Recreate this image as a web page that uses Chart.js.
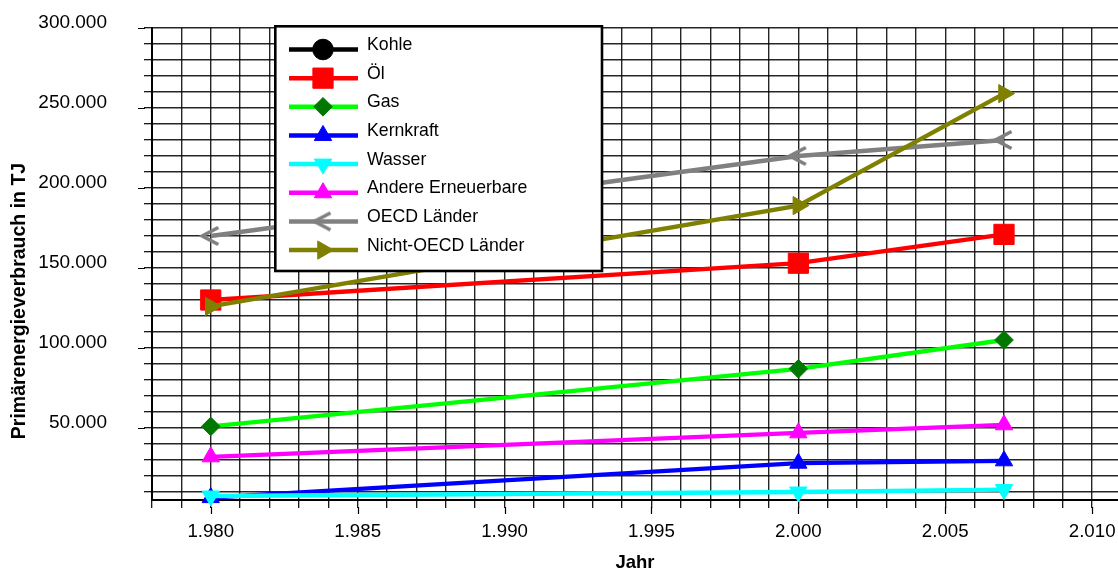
<!DOCTYPE html>
<html>
<head>
<meta charset="utf-8">
<script src="https://cdn.jsdelivr.net/npm/chart.js"></script>
<style>
html,body{margin:0;padding:0;background:#fff;overflow:hidden;}
#wrap{width:1118px;height:568px;position:relative;}
canvas{display:block;}
</style>
</head>
<body>
<div id="wrap"><canvas id="c" width="1118" height="568"></canvas></div>
<script>
// ---- data ----
const years = [1980, 2000, 2007];
const kohle = [null, null, null];
const oel = [130000, 153000, 171000];
const gas = [51000, 87000, 105000];
const kernkraft = [6500, 28000, 29500];
const wasser = [7500, 10000, 11500];
const andere = [32000, 47000, 52000];
const oecd = [170000, 220000, 230000];
const nichtOecd = [126000, 189000, 259000];
const seriesNames = ['Kohle', 'Öl', 'Gas', 'Kernkraft', 'Wasser', 'Andere Erneuerbare', 'OECD Länder', 'Nicht-OECD Länder'];
const yTickLabels = [50000, 100000, 150000, 200000, 250000, 300000];
const xTickLabels = [1980, 1985, 1990, 1995, 2000, 2005, 2010];
const yRange = [5000, 300000];
const xRange = [1978, 2010.88];
const yStep = 10000;
const xStep = 1;
const xTitle = 'Jahr';
const yTitle = 'Primärenergieverbrauch in TJ';

// ---- helpers ----
function fmt(v) { return String(Math.round(v)).replace(/\B(?=(\d{3})+(?!\d))/g, '.'); }
function chevron(color) {
  const c = document.createElement('canvas');
  c.width = 24; c.height = 24;
  const g = c.getContext('2d');
  g.strokeStyle = color; g.lineWidth = 3.6; g.lineJoin = 'miter'; g.lineCap = 'butt';
  g.beginPath(); g.moveTo(19.5, 3.5); g.lineTo(3.5, 12); g.lineTo(19.5, 20.5); g.stroke();
  return c;
}
function gridTicks(lo, hi, step) {
  const out = [];
  for (let v = Math.ceil(lo / step) * step; v <= hi + 1e-9; v += step) out.push({ value: v });
  return out;
}

const seriesValues = [kohle, oel, gas, kernkraft, wasser, andere, oecd, nichtOecd];
const styles = [
  { line: '#000000', fill: '#000000', style: 'circle', r: 10.3, rot: 0 },
  { line: '#ff0000', fill: '#ff0000', style: 'rect', r: 14.3, rot: 0 },
  { line: '#00ff00', fill: '#007800', style: 'rectRot', r: 9.3, rot: 0 },
  { line: '#0000ff', fill: '#0000ff', style: 'triangle', r: 10, rot: 0 },
  { line: '#00ffff', fill: '#00ffff', style: 'triangle', r: 10, rot: 180 },
  { line: '#ff00ff', fill: '#ff00ff', style: 'triangle', r: 10, rot: 0 },
  { line: '#808080', fill: '#808080', style: chevron('#808080'), r: 10, rot: 0 },
  { line: '#808000', fill: '#808000', style: 'triangle', r: 10.5, rot: 90 }
];

const datasets = seriesNames.map((name, i) => ({
  label: name,
  data: years.map((x, k) => ({ x: x, y: seriesValues[i][k] })),
  borderColor: styles[i].line,
  backgroundColor: styles[i].fill,
  borderWidth: 4.3,
  pointStyle: styles[i].style,
  pointRadius: styles[i].r,
  pointHoverRadius: styles[i].r,
  pointRotation: styles[i].rot,
  pointBackgroundColor: styles[i].fill,
  pointBorderColor: styles[i].fill,
  pointBorderWidth: 1,
  tension: 0,
  fill: false,
  clip: false,
  order: -i
}));

const FONT = "'Liberation Sans', Arial, Helvetica, sans-serif";
Chart.defaults.font.family = FONT;
Chart.defaults.color = '#000';
const GRID = 'rgba(0,0,0,0.85)';

const majorTicksPlugin = {
  id: 'majorTicks',
  beforeDatasetsDraw(chart) {
    const { ctx, scales: { x, y } } = chart;
    ctx.save();
    ctx.strokeStyle = '#000';
    ctx.lineWidth = 1.2;
    ctx.beginPath();
    yTickLabels.forEach(v => {
      const py = Math.round(y.getPixelForValue(v)) + 0.5;
      ctx.moveTo(y.right - 14, py); ctx.lineTo(y.right - 7, py);
    });
    xTickLabels.forEach(v => {
      const px = Math.round(x.getPixelForValue(v)) + 0.5;
      ctx.moveTo(px, x.top + 7); ctx.lineTo(px, x.top + 14);
    });
    ctx.stroke();
    ctx.restore();
  }
};

const yTitlePlugin = {
  id: 'yTitle',
  afterDraw(chart) {
    const ctx = chart.ctx;
    ctx.save();
    ctx.translate(19.7, 301);
    ctx.rotate(-Math.PI / 2);
    ctx.font = "bold 19.5px " + FONT;
    ctx.fillStyle = '#000';
    ctx.textAlign = 'center';
    ctx.textBaseline = 'middle';
    ctx.fillText(yTitle, 0, 0);
    ctx.restore();
  }
};

const boxLegendPlugin = {
  id: 'boxLegend',
  afterDatasetsDraw(chart) {
    const ctx = chart.ctx;
    ctx.save();
    ctx.fillStyle = '#fff';
    ctx.fillRect(275, 26, 327, 245);
    ctx.lineWidth = 2.6;
    ctx.strokeStyle = '#000';
    ctx.strokeRect(275.3, 26.3, 326.7, 244.7);
    chart.data.datasets.forEach((ds, i) => {
      const y = 49.5 + 28.65 * i;
      ctx.strokeStyle = ds.borderColor;
      ctx.lineWidth = 4.5;
      ctx.beginPath(); ctx.moveTo(289, y); ctx.lineTo(358, y); ctx.stroke();
      ctx.fillStyle = ds.pointBackgroundColor;
      ctx.strokeStyle = ds.pointBorderColor;
      ctx.lineWidth = ds.pointBorderWidth;
      Chart.helpers.drawPoint(ctx, {
        pointStyle: ds.pointStyle, rotation: ds.pointRotation, radius: ds.pointRadius, borderWidth: ds.pointBorderWidth
      }, 323, y);
      ctx.fillStyle = '#000';
      ctx.font = "17.7px " + FONT;
      ctx.textAlign = 'left';
      ctx.textBaseline = 'alphabetic';
      ctx.fillText(ds.label, 367, y + 0.5);
    });
    ctx.restore();
  }
};

new Chart(document.getElementById('c'), {
  type: 'line',
  data: { datasets: datasets },
  options: {
    responsive: false,
    animation: false,
    devicePixelRatio: 1,
    layout: { autoPadding: false, padding: { top: 28, right: 0, bottom: 0, left: 0 } },
    plugins: { legend: { display: false }, tooltip: { enabled: false } },
    scales: {
      x: {
        type: 'linear',
        min: xRange[0],
        max: xRange[1],
        afterBuildTicks: s => { s.ticks = gridTicks(xRange[0], xRange[1], xStep); },
        afterFit: s => { s.height = 68; s.paddingLeft = 0; s.paddingRight = 0; },
        ticks: {
          autoSkip: false, maxRotation: 0, minRotation: 0,
          padding: 12.5, font: { size: 18.7, lineHeight: 1.2 }, color: '#000',
          callback: v => xTickLabels.some(t => Math.abs(t - v) < 1e-6) ? fmt(v) : ''
        },
        grid: { color: GRID, lineWidth: 1.4, tickLength: 8, tickColor: '#000', tickWidth: 1.2 },
        border: { display: true, color: '#000', width: 2 },
        title: { display: true, text: xTitle, color: '#000', font: { size: 18.5, weight: 'bold', lineHeight: 1.2 }, padding: { top: 0, bottom: -5.7 } }
      },
      y: {
        type: 'linear',
        min: yRange[0],
        max: yRange[1],
        afterBuildTicks: s => { s.ticks = gridTicks(yRange[0] + 1, yRange[1], yStep); },
        afterFit: s => { s.width = 152; s.paddingTop = 0; s.paddingBottom = 0; },
        ticks: {
          autoSkip: false,
          padding: 37, labelOffset: -5.5, font: { size: 19, lineHeight: 1.2 }, color: '#000',
          callback: v => yTickLabels.some(t => Math.abs(t - v) < 1e-6) ? fmt(v) : ''
        },
        grid: { color: GRID, lineWidth: 1.4, tickLength: 8, tickColor: '#000', tickWidth: 1.2 },
        border: { display: true, color: '#000', width: 2 },
        title: { display: false }
      }
    }
  },
  plugins: [majorTicksPlugin, boxLegendPlugin, yTitlePlugin]
});
</script>
</body>
</html>
